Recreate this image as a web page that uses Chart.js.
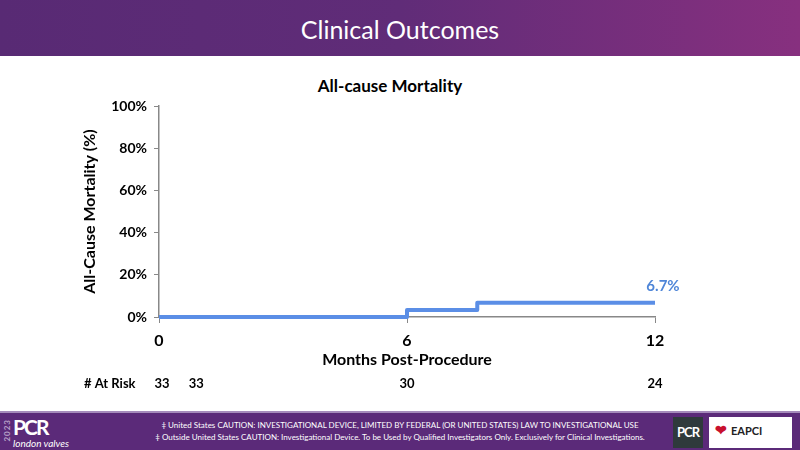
<!DOCTYPE html>
<html>
<head>
<meta charset="utf-8">
<script src="https://cdn.jsdelivr.net/npm/chart.js@4/dist/chart.umd.min.js"></script>
<style>
  html, body { margin: 0; padding: 0; width: 800px; height: 450px; overflow: hidden; background: #fff; font-family: Lato, "Open Sans", sans-serif; }
  .header { position: absolute; left: 0; top: 0; width: 800px; height: 56px; background: linear-gradient(90deg, #582a74 0%, #602c78 50%, #87307f 100%); color: #fff; font-size: 25px; text-align: center; line-height: 58px; }
  .chart-title { position: absolute; left: 0; top: 75px; width: 780px; text-align: center; font-weight: bold; font-size: 17px; color: #000; }
  .chart-wrap { position: absolute; left: 0; top: 57px; width: 800px; height: 353px; }
  .footer { position: absolute; left: 0; top: 411px; width: 800px; height: 39px; background: #5b2a79; border-top: 2px solid #a58bbb; color: #fff; }
  .disc { position: absolute; left: 150px; width: 500px; text-align: center; font-size: 8px; line-height: 12px; top: 6px; }
  .year { position: absolute; left: 2px; top: 6px; font-size: 8px; writing-mode: vertical-rl; transform: rotate(180deg); color: #b9a3c9; font-weight: bold; letter-spacing: 1px; }
  .pcr { position: absolute; left: 13px; top: 1px; font-size: 21px; font-weight: bold; letter-spacing: -2px; }
  .lv { position: absolute; left: 13px; top: 24px; font-size: 10px; font-style: italic; }
  .pcr2 { position: absolute; left: 673px; top: 4px; width: 30px; height: 31px; background: #2f3a3c; font-size: 13px; font-weight: bold; text-align: center; line-height: 31px; letter-spacing: -1px; }
  .eapci { position: absolute; left: 709px; top: 4px; width: 83px; height: 31px; background: #fff; color: #222; font-size: 11px; font-weight: bold; line-height: 26px; }
  .eapci span.h { color: #c8102e; font-size: 14px; margin: 0 4px 0 6px; }
</style>
</head>
<body>
<div class="header">Clinical Outcomes</div>
<div class="chart-title">All-cause Mortality</div>
<div class="chart-wrap"><canvas id="graph"></canvas></div>
<div class="footer">
  <div class="year">2023</div>
  <div class="pcr">PCR</div>
  <div class="lv">london valves</div>
  <div class="disc">‡ United States CAUTION: INVESTIGATIONAL DEVICE, LIMITED BY FEDERAL (OR UNITED STATES) LAW TO INVESTIGATIONAL USE<br>‡ Outside United States CAUTION: Investigational Device. To be Used by Qualified Investigators Only. Exclusively for Clinical Investigations.</div>
  <div class="pcr2">PCR</div>
  <div class="eapci"><span class="h">&#10084;</span>EAPCI</div>
</div>
<script>
// 曲線のデータ（月, %）
const stepMonths = [0, 6, 7.7, 12];
const mortality = [0, 3.3, 6.7, 6.7];
const endLabel = "6.7%";

// At Risk の行
const atRiskMonths = [0, 0.9, 6, 12];
const atRiskCounts = [33, 33, 30, 24];

const xTicks = [0, 6, 12];
const yTicks = [0, 20, 40, 60, 80, 100];

const lineColor = "#5b8ee6";
const fontFamily = "Lato, 'Open Sans', sans-serif";

// 最終値ラベルと At Risk 行を描くプラグイン
const extrasPlugin = {
  id: "extras",
  afterDraw(chart) {
    const ctx = chart.ctx;
    const xs = chart.scales.x;
    const ys = chart.scales.y;
    ctx.save();
    ctx.fillStyle = "#4f86d8";
    ctx.font = "bold 15px " + fontFamily;
    ctx.textAlign = "center";
    ctx.textBaseline = "middle";
    const last = stepMonths.length - 1;
    ctx.fillText(endLabel, xs.getPixelForValue(stepMonths[last]) + 8, ys.getPixelForValue(mortality[last]) - 17);

    const rowY = 327;
    ctx.fillStyle = "#000";
    ctx.font = "bold 13px " + fontFamily;
    ctx.textAlign = "left";
    ctx.fillText("# At Risk", 84, rowY);
    ctx.textAlign = "center";
    atRiskMonths.forEach((m, i) => {
      ctx.fillText(String(atRiskCounts[i]), xs.getPixelForValue(m) + (i === 0 ? 3 : 0), rowY);
    });
    ctx.restore();
  },
};

const ctx = document.getElementById("graph").getContext("2d");
new Chart(ctx, {
  type: "line",
  data: {
    datasets: [
      {
        data: stepMonths.map((m, i) => ({ x: m, y: mortality[i] })),
        borderColor: lineColor,
        borderWidth: 4,
        stepped: true,
        pointRadius: 0,
        fill: false,
        borderJoinStyle: "round",
        clip: false,
      },
    ],
  },
  options: {
    responsive: true,
    maintainAspectRatio: false,
    animation: false,
    layout: { padding: { left: 78, right: 145, top: 49, bottom: 40 } },
    scales: {
      x: {
        type: "linear",
        min: 0,
        max: 12,
        afterBuildTicks(scale) {
          scale.ticks = xTicks.map((v) => ({ value: v }));
        },
        afterFit(scale) {
          scale.height = 53;
        },
        grid: { drawOnChartArea: false, drawTicks: true, tickLength: 6, color: "#888" },
        border: { color: "#888", width: 1.5 },
        ticks: { color: "#000", font: { family: fontFamily, size: 16, weight: "bold" }, padding: 8, maxRotation: 0 },
        title: {
          display: true,
          text: "Months Post-Procedure",
          color: "#000",
          font: { family: fontFamily, size: 16, weight: "bold" },
          padding: { top: 0, bottom: 1 },
        },
      },
      y: {
        min: 0,
        max: 100,
        afterBuildTicks(scale) {
          scale.ticks = yTicks.map((v) => ({ value: v }));
        },
        afterFit(scale) {
          scale.width = 81;
        },
        grid: { drawOnChartArea: false, drawTicks: true, tickLength: 5, color: "#888" },
        border: { color: "#888", width: 1.5 },
        ticks: {
          color: "#000",
          font: { family: fontFamily, size: 14, weight: "bold" },
          padding: 7,
          callback: (v) => v + "%",
        },
        title: {
          display: true,
          text: "All-Cause Mortality (%)",
          color: "#000",
          font: { family: fontFamily, size: 16, weight: "bold" },
          padding: { top: 2, bottom: 0 },
        },
      },
    },
    plugins: {
      legend: { display: false },
      tooltip: { enabled: false },
    },
  },
  plugins: [extrasPlugin],
});
</script>
</body>
</html>
